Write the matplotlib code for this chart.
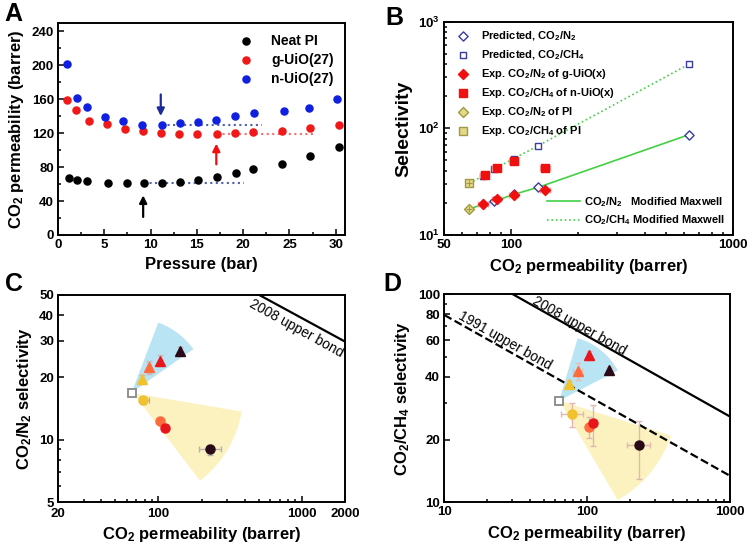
import numpy as np
import matplotlib
matplotlib.use("Agg")
import matplotlib.pyplot as plt
from matplotlib.ticker import FixedLocator, NullFormatter, AutoMinorLocator

plt.rcParams['font.family'] = ['Liberation Sans', 'DejaVu Sans']
plt.rcParams['font.weight'] = 'bold'
plt.rcParams['axes.labelweight'] = 'bold'
plt.rcParams['mathtext.fontset'] = 'custom'
plt.rcParams['mathtext.rm'] = 'Liberation Sans:bold'
plt.rcParams['mathtext.bf'] = 'Liberation Sans:bold'
plt.rcParams['mathtext.default'] = 'bf'

# ---- panel A: permeability vs pressure ----
pi_p = [1.2, 2.1, 3.1, 5.4, 7.5, 9.3, 11.2, 13.2, 15.1, 17.2, 19.2, 21.1, 24.2, 27.2, 30.3]
pi_perm = [67, 64.8, 63.6, 61, 60.8, 60.8, 61, 62.8, 65, 68.7, 72.7, 77.4, 84, 92.8, 104]
g_p = [1.0, 2.0, 3.3, 5.3, 7.2, 9.2, 11.1, 13.1, 15.0, 17.2, 19.1, 21.1, 24.2, 27.2, 30.3]
g_perm = [159.5, 146.9, 135, 130.3, 125.2, 122.4, 120.8, 119.6, 119.2, 119.2, 120.4, 122, 122.8, 126, 129.5]
n_p = [1.0, 2.1, 3.1, 5.1, 7.0, 9.1, 11.2, 13.2, 15.1, 17.1, 19.1, 21.2, 24.4, 27.1, 30.1]
n_perm = [201.4, 161, 150.8, 139.4, 133.9, 130, 130, 131.9, 133.5, 135.8, 140.2, 143.3, 146, 150, 160.7]

# ---- panel B: selectivity vs permeability ----
pred_x = [75, 84, 102.6, 132.5, 630]
pred_n2 = [19.5, 20.7, 24, 28, 87]
pred_ch4 = [36, 41.6, 52, 68.8, 398]
exp_g_x = [75, 86, 102.6, 142.5]
exp_g_n2 = [19.5, 21.8, 23.7, 26.4]
exp_n_x = [76, 86, 102.6, 142.5]
exp_n_ch4 = [36.5, 42.2, 49.8, 42.2]
pi_x = 64.8
pi_n2 = 17.5
pi_ch4 = 30.5
model_x = [64.8, 75, 84, 102.6, 132.5, 630]
model_n2 = [17.5, 19.5, 20.7, 24, 28, 87]
model_ch4 = [30.5, 36, 41.6, 52, 68.8, 398]

# ---- panel C / D: Robeson plots ----
mof_colors = ['#f2c12e', '#ff6a3d', '#e8151b', '#2b0a18']
tri_x = [76.3, 85.8, 102.4, 142]
tri_n2 = [19.6, 22.4, 24.1, 26.9]
cir_x = [78.3, 102.4, 110.4, 229.8]
cir_n2 = [15.5, 12.4, 11.4, 9.0]
c_pi = (64.9, 16.9)

tri_xd = [75, 85.8, 102.4, 142.9]
tri_ch4 = [37, 42.9, 50.8, 43.1]
cir_xd = [78.3, 102.4, 110.4, 229.4]
cir_ch4 = [26.5, 23.1, 24.0, 18.8]
d_pi = (63.8, 30.8)

# error bars (lower, upper)
c_tri_yerr = [[1.0, 1.6, 1.5, 1.3], [1.0, 1.6, 1.5, 1.3]]
c_cir_xerr = [[5, 3, 3, 39], [8, 3, 3, 43]]
c_cir_yerr = [[0.6, 0.5, 0.4, 0.5], [0.6, 0.5, 0.4, 0.5]]
d_tri_xerr = [[2, 6, 3, 4], [2, 6, 3, 4]]
d_tri_yerr = [[1.5, 4.3, 2.5, 1.5], [1.5, 3.6, 2.5, 1.5]]
d_cir_xerr = [[12.8, 3, 3, 39], [14.7, 3, 3, 46]]
d_cir_yerr = [[3.4, 2.8, 5.4, 5.9], [3.6, 2.7, 5.4, 5.9]]

# upper bounds
c_2008_x = [505, 2000]
c_2008_y = [50, 29.8]
d_2008_x = [30, 1000]
d_2008_y = [100, 25.8]
d_1991_x = [10, 1000]
d_1991_y = [79.3, 13.4]

# shaded sectors: apex, two rim points
c_blue = [c_pi, (99.7, 36.8), (175, 27.4)]
c_yellow = [(66.5, 16.8), (380, 13.7), (194.7, 6.36)]
d_blue = [d_pi, (85.8, 61.3), (163.5, 42.9)]
d_yellow = [d_pi, (386, 20.9), (163.5, 10.26)]

fig = plt.figure(figsize=(7.52, 5.47), dpi=100)
axA = fig.add_axes([0.0771, 0.5704, 0.3817, 0.3876])
axB = fig.add_axes([0.5908, 0.5704, 0.3843, 0.3900])
axC = fig.add_axes([0.0775, 0.0817, 0.3813, 0.3790])
axD = fig.add_axes([0.5908, 0.0817, 0.3800, 0.3808])


def style(ax):
    for s in ax.spines.values():
        s.set_linewidth(1.4)
    ax.tick_params(which='both', direction='in', labelsize=9.5, width=1.1, pad=3)
    ax.tick_params(which='major', length=4)
    ax.tick_params(which='minor', length=2)
    for lab in ax.get_xticklabels() + ax.get_yticklabels():
        lab.set_fontweight('bold')


def sector(ax, pts, color):
    T = ax.transData
    a = T.transform(pts[0])
    b = T.transform(pts[1])
    c = T.transform(pts[2])
    r1 = np.hypot(*(b - a))
    r2 = np.hypot(*(c - a))
    t1 = np.arctan2(b[1] - a[1], b[0] - a[0])
    t2 = np.arctan2(c[1] - a[1], c[0] - a[0])
    if t2 - t1 > np.pi:
        t2 -= 2 * np.pi
    if t1 - t2 > np.pi:
        t2 += 2 * np.pi
    t = np.linspace(t1, t2, 50)
    r = np.linspace(r1, r2, 50)
    arc = np.column_stack([a[0] + r * np.cos(t), a[1] + r * np.sin(t)])
    poly = T.inverted().transform(np.vstack([a, arc]))
    ax.fill(poly[:, 0], poly[:, 1], color=color, lw=0, zorder=0)


# ---------- A ----------
axA.scatter(pi_p, pi_perm, s=26, color='black', label='Neat PI', zorder=3)
axA.scatter(g_p, g_perm, s=26, color='#f01818', label='g-UiO(27)', zorder=3)
axA.scatter(n_p, n_perm, s=26, color='#1020e0', label='n-UiO(27)', zorder=3)
axA.plot([9.3, 20.1], [61, 61], ':', color='#5060b0', lw=1.5)
axA.plot([17.2, 27.9], [119, 119], ':', color='#f07070', lw=1.5)
axA.plot([11.2, 22], [130, 130], ':', color='#5060b0', lw=1.5)
axA.annotate('', xy=(11.1, 137), xytext=(11.1, 169),
             arrowprops=dict(arrowstyle='-|>', color='#1c2a9c', lw=1.6, mutation_scale=11))
axA.annotate('', xy=(17.1, 111), xytext=(17.1, 80),
             arrowprops=dict(arrowstyle='-|>', color='#f01010', lw=1.6, mutation_scale=11))
axA.annotate('', xy=(9.2, 50), xytext=(9.2, 18),
             arrowprops=dict(arrowstyle='-|>', color='black', lw=1.6, mutation_scale=11))
axA.set_xlim(0, 31)
axA.set_ylim(0, 250)
axA.set_xticks([0, 5, 10, 15, 20, 25, 30])
axA.set_yticks([0, 40, 80, 120, 160, 200, 240])
axA.xaxis.set_minor_locator(AutoMinorLocator(2))
axA.yaxis.set_minor_locator(AutoMinorLocator(2))
axA.set_xlabel('Pressure (bar)', fontsize=12)
axA.set_ylabel('CO$_2$ permeability (barrer)', fontsize=12)
axA.legend(loc='upper right', frameon=False, fontsize=10, handletextpad=0.8,
           borderaxespad=0.4, labelspacing=0.35)
style(axA)

# ---------- B ----------
navy = '#3c3c9c'
axB.plot(model_x, model_n2, '-', color='#44d044', lw=1.2,
         label='CO$_2$/N$_2$   Modified Maxwell')
axB.plot(model_x, model_ch4, ':', color='#44d044', lw=1.2,
         label='CO$_2$/CH$_4$ Modified Maxwell')
h1 = axB.scatter(pred_x, pred_n2, marker='D', s=22, facecolor='white', edgecolor=navy, lw=1, zorder=3)
h2 = axB.scatter(pred_x, pred_ch4, marker='s', s=22, facecolor='white', edgecolor=navy, lw=1, zorder=3)
axB.errorbar(exp_g_x, exp_g_n2, xerr=[v * 0.05 for v in exp_g_x], fmt='none', ecolor='#f4a0a0', lw=1, capsize=2, zorder=3)
axB.errorbar(exp_n_x, exp_n_ch4, xerr=[v * 0.05 for v in exp_n_x], fmt='none', ecolor='#f4a0a0', lw=1, capsize=2, zorder=3)
h3 = axB.scatter(exp_g_x, exp_g_n2, marker='D', s=26, color='#f01010', zorder=4)
h4 = axB.scatter(exp_n_x, exp_n_ch4, marker='s', s=26, color='#f01010', zorder=4)
h5 = axB.scatter([pi_x], [pi_n2], marker='D', s=26, facecolor='#e4d88a', edgecolor='#a09a40', lw=1, zorder=4)
h6 = axB.scatter([pi_x], [pi_ch4], marker='s', s=26, facecolor='#e4d88a', edgecolor='#a09a40', lw=1, zorder=4)
axB.scatter([pi_x, pi_x], [pi_n2, pi_ch4], marker='+', s=18, color='#a09a40', lw=0.8, zorder=5)
axB.set_xscale('log')
axB.set_yscale('log')
axB.set_xlim(50, 1000)
axB.set_ylim(10, 1000)
axB.xaxis.set_major_locator(FixedLocator([50, 100, 1000]))
axB.set_xticklabels(['50', '100', '1000'])
axB.xaxis.set_minor_formatter(NullFormatter())
axB.set_yticks([10, 100, 1000])
axB.set_yticklabels(['10$^1$', '10$^2$', '10$^3$'])
axB.set_xlabel('CO$_2$ permeability (barrer)', fontsize=12)
axB.set_ylabel('Selectivity', fontsize=14)
leg1 = axB.legend([h1, h2, h3, h4, h5, h6],
                  ['Predicted, CO$_2$/N$_2$', 'Predicted, CO$_2$/CH$_4$',
                   'Exp. CO$_2$/N$_2$ of g-UiO(x)', 'Exp. CO$_2$/CH$_4$ of n-UiO(x)',
                   'Exp. CO$_2$/N$_2$ of PI', 'Exp. CO$_2$/CH$_4$ of PI'],
                  loc='upper left', frameon=False, fontsize=8, labelspacing=0.45,
                  handletextpad=0.6, borderaxespad=0.3)
axB.add_artist(leg1)
axB.legend(loc='lower right', frameon=False, fontsize=8, handlelength=3,
           handletextpad=0.4, labelspacing=0.4, borderaxespad=0.3)
style(axB)

# ---------- C ----------
axC.set_xscale('log')
axC.set_yscale('log')
axC.set_xlim(20, 2000)
axC.set_ylim(5, 50)
sector(axC, c_blue, '#b8e4f4')
sector(axC, c_yellow, '#fbf2c0')
axC.plot(c_2008_x, c_2008_y, '-', color='black', lw=1.6)
axC.text(910, 34.5, '2008 upper bond', rotation=-29, ha='center', va='center',
         fontsize=10, fontweight='normal', rotation_mode='anchor')
for i in range(4):
    axC.errorbar(tri_x[i], tri_n2[i], yerr=[[c_tri_yerr[0][i]], [c_tri_yerr[1][i]]], fmt='^',
                 ms=6.5, color=mof_colors[i], ecolor='#c8b8b8', elinewidth=1, capsize=2, zorder=3)
    axC.errorbar(cir_x[i], cir_n2[i], xerr=[[c_cir_xerr[0][i]], [c_cir_xerr[1][i]]],
                 yerr=[[c_cir_yerr[0][i]], [c_cir_yerr[1][i]]], fmt='o',
                 ms=6.5, color=mof_colors[i], ecolor='#b8b0b0', elinewidth=1, capsize=2, zorder=3)
axC.errorbar(c_pi[0], c_pi[1], yerr=0.6, fmt='s', ms=5.5, mfc='white', mec='#888888', mew=1.3,
             ecolor='#bbbbbb', capsize=2, zorder=3)
axC.yaxis.set_major_locator(FixedLocator([5, 10, 20, 30, 40, 50]))
axC.set_yticklabels(['5', '10', '20', '30', '40', '50'])
axC.yaxis.set_minor_formatter(NullFormatter())
axC.xaxis.set_major_locator(FixedLocator([20, 100, 1000, 2000]))
axC.set_xticklabels(['20', '100', '1000', '2000'])
axC.xaxis.set_minor_formatter(NullFormatter())
axC.set_xlabel('CO$_2$ permeability (barrer)', fontsize=12)
axC.set_ylabel('CO$_2$/N$_2$ selectivity', fontsize=12)
style(axC)
axC.tick_params(axis='x', pad=4)

# ---------- D ----------
axD.set_xscale('log')
axD.set_yscale('log')
axD.set_xlim(10, 1000)
axD.set_ylim(10, 100)
sector(axD, d_blue, '#b8e4f4')
sector(axD, d_yellow, '#fbf2c0')
axD.plot(d_2008_x, d_2008_y, '-', color='black', lw=1.6)
axD.plot(d_1991_x, d_1991_y, '--', color='black', lw=1.6)
axD.text(88, 70, '2008 upper bond', rotation=-29.5, ha='center', va='center',
         fontsize=10, fontweight='normal', rotation_mode='anchor')
axD.text(26.5, 60, '1991 upper bond', rotation=-29.5, ha='center', va='center',
         fontsize=10, fontweight='normal', rotation_mode='anchor')
for i in range(4):
    axD.errorbar(tri_xd[i], tri_ch4[i], xerr=[[d_tri_xerr[0][i]], [d_tri_xerr[1][i]]],
                 yerr=[[d_tri_yerr[0][i]], [d_tri_yerr[1][i]]], fmt='^',
                 ms=6.5, color=mof_colors[i], ecolor='#e0c0b8', elinewidth=1, capsize=2, zorder=3)
    axD.errorbar(cir_xd[i], cir_ch4[i], xerr=[[d_cir_xerr[0][i]], [d_cir_xerr[1][i]]],
                 yerr=[[d_cir_yerr[0][i]], [d_cir_yerr[1][i]]], fmt='o',
                 ms=6.5, color=mof_colors[i], ecolor='#e0b8b0', elinewidth=1, capsize=2, zorder=3)
axD.errorbar(d_pi[0], d_pi[1], yerr=1.0, fmt='s', ms=5.5, mfc='white', mec='#888888', mew=1.3,
             ecolor='#bbbbbb', capsize=2, zorder=3)
axD.yaxis.set_major_locator(FixedLocator([10, 20, 40, 60, 80, 100]))
axD.set_yticklabels(['10', '20', '40', '60', '80', '100'])
axD.yaxis.set_minor_formatter(NullFormatter())
axD.xaxis.set_major_locator(FixedLocator([10, 100, 1000]))
axD.set_xticklabels(['10', '100', '1000'])
axD.xaxis.set_minor_formatter(NullFormatter())
axD.set_xlabel('CO$_2$ permeability (barrer)', fontsize=12)
axD.set_ylabel('CO$_2$/CH$_4$ selectivity', fontsize=12)
style(axD)

# panel letters
fig.text(0.006, 0.975, 'A', fontsize=18, fontweight='bold', va='center')
fig.text(0.512, 0.967, 'B', fontsize=18, fontweight='bold', va='center')
fig.text(0.006, 0.481, 'C', fontsize=18, fontweight='bold', va='center')
fig.text(0.510, 0.481, 'D', fontsize=18, fontweight='bold', va='center')

fig.savefig('out.png', dpi=100)
